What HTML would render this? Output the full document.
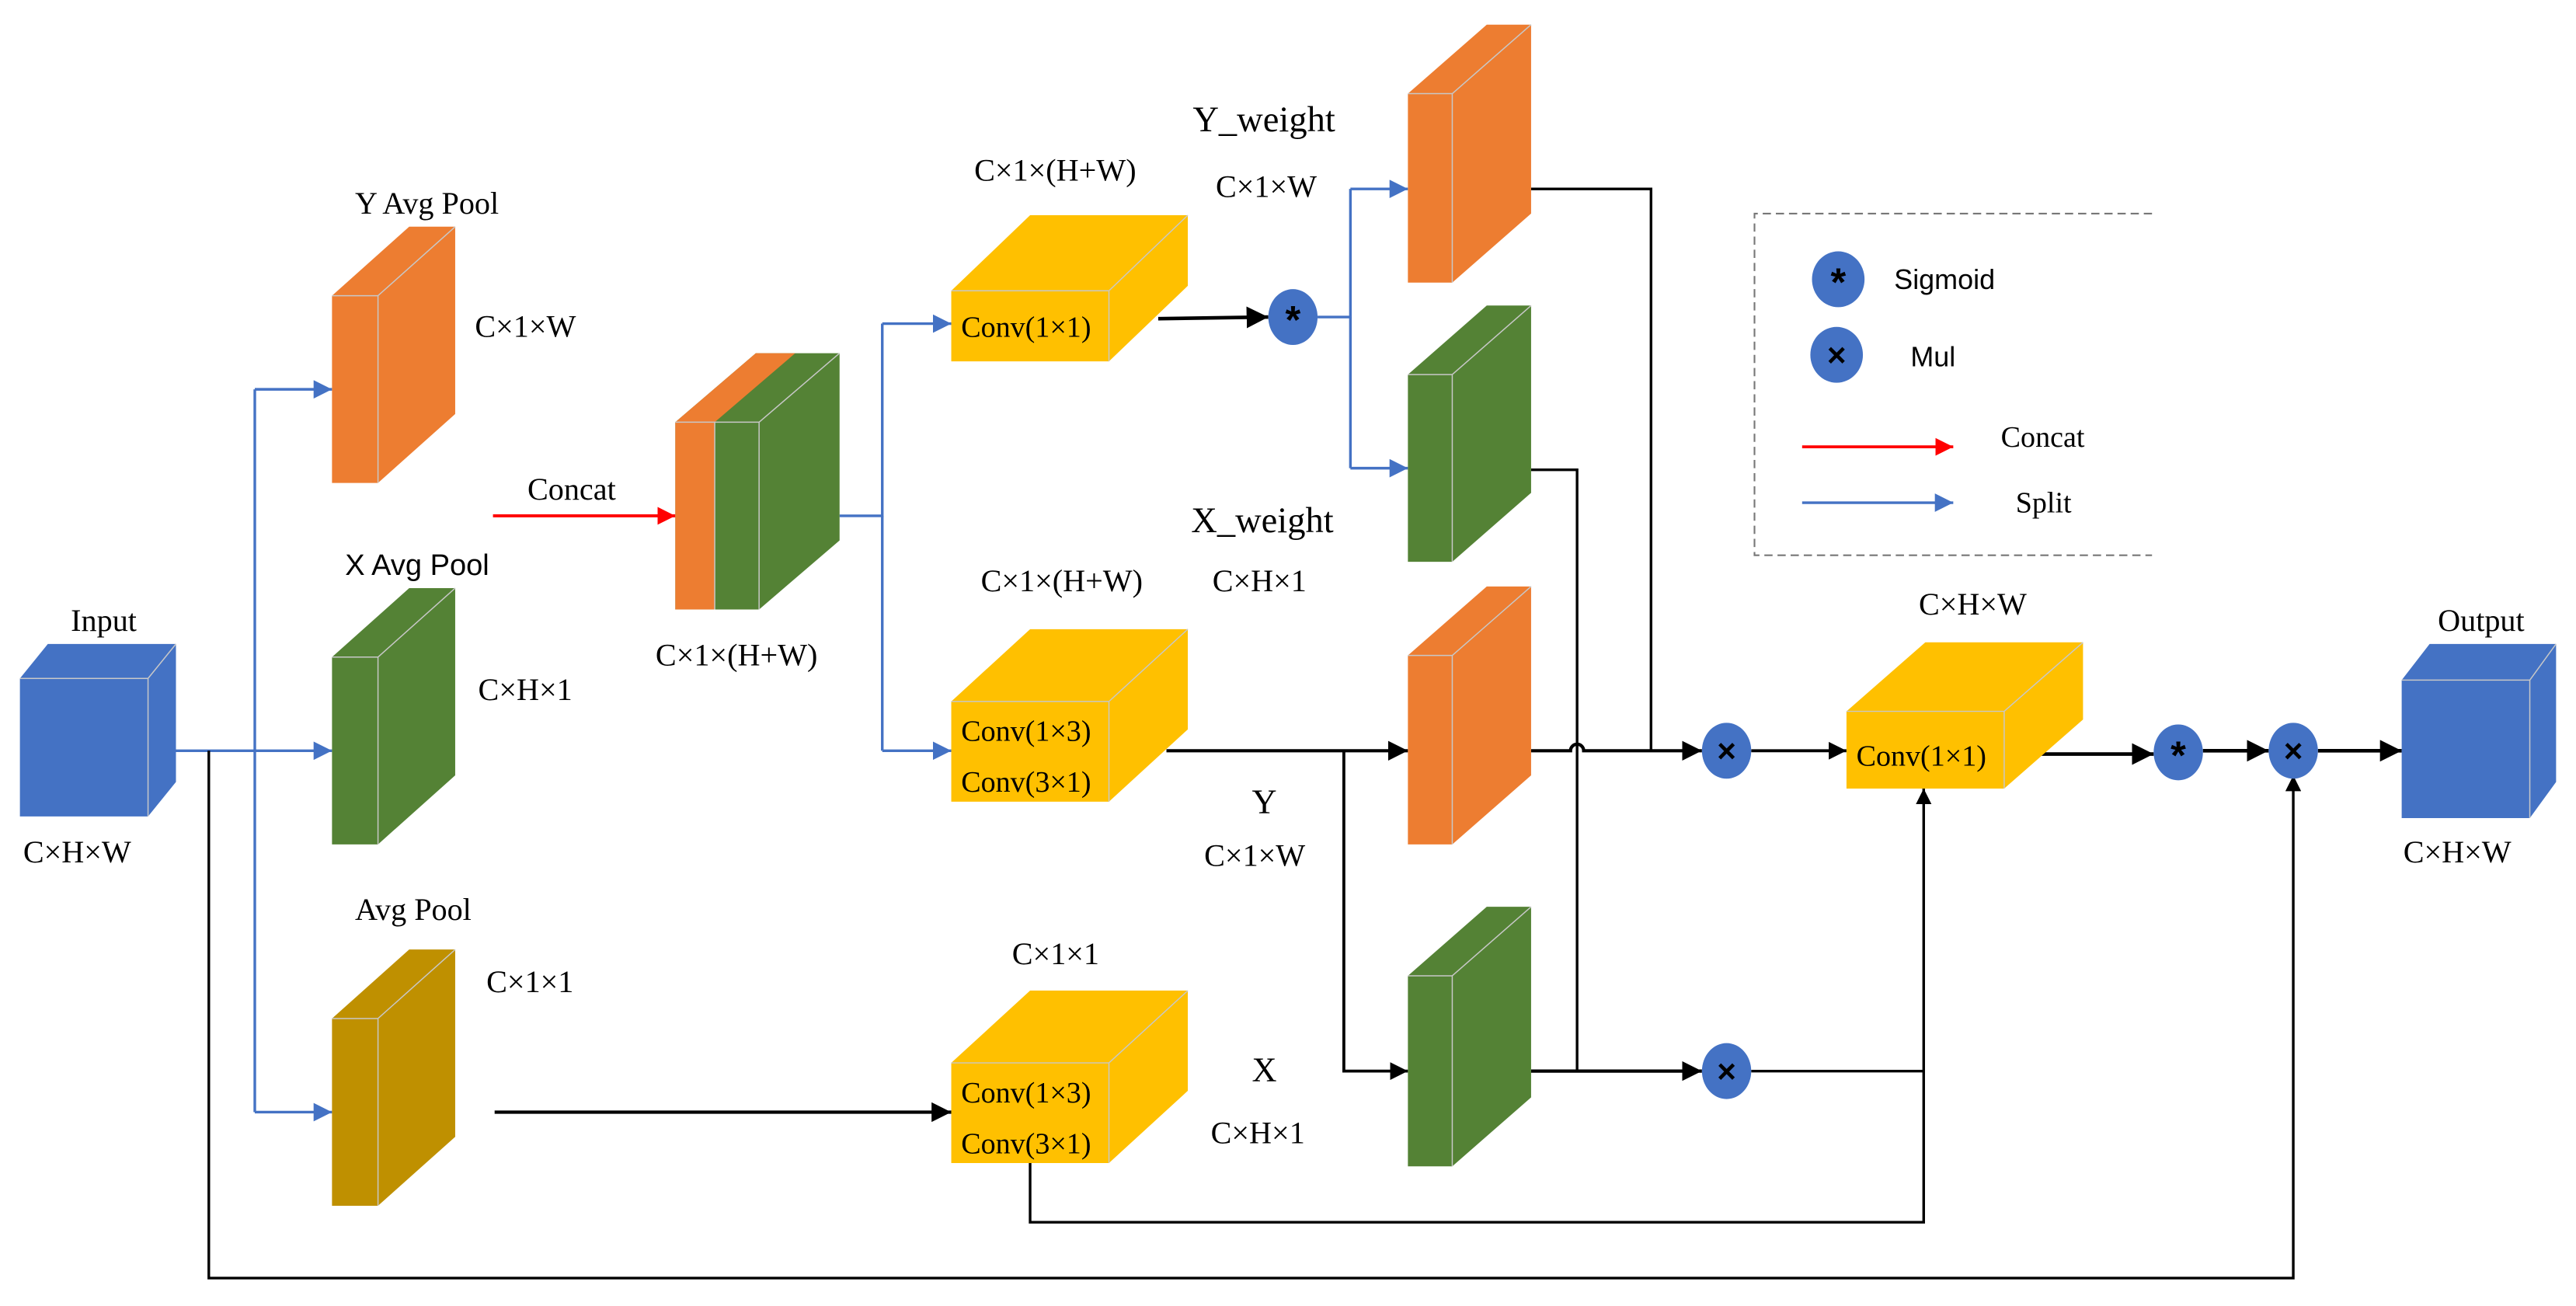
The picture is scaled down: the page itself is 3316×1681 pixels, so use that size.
<!DOCTYPE html>
<html><head><meta charset="utf-8"><style>
html,body{margin:0;padding:0;background:#fff;}
svg{display:block;}
text{font-family:"Liberation Serif",serif;font-size:19px;fill:#000;}
.s{font-family:"Liberation Sans",sans-serif;}
.e{stroke:#c8c8c8;stroke-width:0.7;fill:none;}
</style></head><body>
<svg width="3316" height="1681" viewBox="0 0 1568 795" xmlns="http://www.w3.org/2000/svg">
<defs>
<marker id="ab" viewBox="0 0 10 10" refX="10" refY="5" markerWidth="6" markerHeight="6" orient="auto" markerUnits="strokeWidth"><path d="M0,0L10,5L0,10z" fill="#000"/></marker>
<marker id="abl" viewBox="0 0 10 10" refX="10" refY="5" markerWidth="7" markerHeight="7" orient="auto" markerUnits="strokeWidth"><path d="M0,0L10,5L0,10z" fill="#4472C4"/></marker>
<marker id="ar" viewBox="0 0 10 10" refX="10" refY="5" markerWidth="6" markerHeight="6" orient="auto" markerUnits="strokeWidth"><path d="M0,0L10,5L0,10z" fill="#f00"/></marker>
</defs>

<g stroke="#4472C4" stroke-width="1.6" fill="none">
<path d="M107,457H155"/>
<path d="M155,237V677"/>
<path d="M155,237H202" marker-end="url(#abl)"/>
<path d="M155,457H202" marker-end="url(#abl)"/>
<path d="M155,677H202" marker-end="url(#abl)"/>
<path d="M511,314H537V197"/>
<path d="M537,314V457"/>
<path d="M537,197H579" marker-end="url(#abl)"/>
<path d="M537,457H579" marker-end="url(#abl)"/>
<path d="M802,193H822V115"/>
<path d="M822,193V285"/>
<path d="M822,115H857" marker-end="url(#abl)"/>
<path d="M822,285H857" marker-end="url(#abl)"/>
<path d="M1097,306H1189" marker-end="url(#abl)"/>
</g>
<g stroke="#f00" stroke-width="1.8" fill="none">
<path d="M300,314H411" marker-end="url(#ar)"/>
<path d="M1097,272H1189" marker-end="url(#ar)"/>
</g>

<g stroke="#000" stroke-width="1.6" fill="none">
<path d="M705,194L772,193" stroke-width="2.2" marker-end="url(#ab)"/>
<path d="M301,677H579" stroke-width="2" marker-end="url(#ab)"/>
<path d="M127,457V778H1396V472" marker-end="url(#ab)"/>
<path d="M627,708V744H1171V480" marker-end="url(#ab)"/>
<path d="M710,457H857" stroke-width="2" marker-end="url(#ab)"/>
<path d="M818,457V652H857" stroke-width="1.8" marker-end="url(#ab)"/>
<path d="M932,115H1005V457"/>
<path d="M932,286H960V652"/>
<path d="M932,457H956a4,4 0 0 1 8,0H1036" stroke-width="2" marker-end="url(#ab)"/>
<path d="M932,652H1036" stroke-width="2" marker-end="url(#ab)"/>
<path d="M1066,457H1124" stroke-width="1.8" marker-end="url(#ab)"/>
<path d="M1066,652H1171"/>
<path d="M1220,459L1311,459" stroke-width="2.2" marker-end="url(#ab)"/>
<path d="M1341,457H1381" stroke-width="2.2" marker-end="url(#ab)"/>
<path d="M1411,457H1462" stroke-width="2.2" marker-end="url(#ab)"/>
</g>

<polygon points="12,497 12,413 29,392 107,392 107,476 90,497" fill="#4472C4"/>
<path class="e" d="M12,413H90V497M90,413L107,392"/>
<polygon points="1462,498 1462,414 1479,392 1556,392 1556,476 1540,498" fill="#4472C4"/>
<path class="e" d="M1462,414H1540V498M1540,414L1556,392"/>

<polygon points="202,294 202,180 249,138 277,138 277,252 230,294" fill="#ED7D31"/>
<path class="e" d="M202,180H230V294M230,180L277,138"/>
<polygon points="202,514 202,400 249,358 277,358 277,472 230,514" fill="#548235"/>
<path class="e" d="M202,400H230V514M230,400L277,358"/>
<polygon points="202,734 202,620 249,578 277,578 277,692 230,734" fill="#BF9000"/>
<path class="e" d="M202,620H230V734M230,620L277,578"/>

<polygon points="411,371 411,257 460,215 511,215 511,329 462,371" fill="#548235"/>
<rect x="411" y="257" width="24" height="114" fill="#ED7D31"/>
<polygon points="411,257 460,215 484,215 435,257" fill="#ED7D31"/>
<path class="e" d="M411,257H462V371M435,257V371M462,257L511,215"/>

<polygon points="579,220 579,177 627,131 723,131 723,174 675,220" fill="#FFC000"/>
<path class="e" d="M579,177H675V220M675,177L723,131"/>
<polygon points="579,488 579,427 627,383 723,383 723,444 675,488" fill="#FFC000"/>
<path class="e" d="M579,427H675V488M675,427L723,383"/>
<polygon points="579,708 579,647 627,603 723,603 723,664 675,708" fill="#FFC000"/>
<path class="e" d="M579,647H675V708M675,647L723,603"/>
<polygon points="1124,480 1124,433 1172,391 1268,391 1268,438 1220,480" fill="#FFC000"/>
<path class="e" d="M1124,433H1220V480M1220,433L1268,391"/>

<polygon points="857,172 857,57 905,15 932,15 932,130 884,172" fill="#ED7D31"/>
<path class="e" d="M857,57H884V172M884,57L932,15"/>
<polygon points="857,342 857,228 905,186 932,186 932,300 884,342" fill="#548235"/>
<path class="e" d="M857,228H884V342M884,228L932,186"/>
<polygon points="857,514 857,399 905,357 932,357 932,472 884,514" fill="#ED7D31"/>
<path class="e" d="M857,399H884V514M884,399L932,357"/>
<polygon points="857,710 857,594 905,552 932,552 932,668 884,710" fill="#548235"/>
<path class="e" d="M857,594H884V710M884,594L932,552"/>

<g fill="#4472C4">
<ellipse cx="787" cy="193" rx="15" ry="17"/>
<ellipse cx="1051" cy="457" rx="15" ry="17"/>
<ellipse cx="1051" cy="652" rx="15" ry="17"/>
<ellipse cx="1326" cy="458" rx="15" ry="17"/>
<ellipse cx="1396" cy="457" rx="15" ry="17"/>
<ellipse cx="1119" cy="170" rx="16" ry="17"/>
<ellipse cx="1118" cy="216" rx="16" ry="17"/>
</g>
<g text-anchor="middle">
<text x="787" y="203" class="s" style="font-size:24px;font-weight:bold">*</text>
<text x="1326" y="468" class="s" style="font-size:24px;font-weight:bold">*</text>
<text x="1119" y="180" class="s" style="font-size:24px;font-weight:bold">*</text>
<text x="1051" y="464" class="s" style="font-size:20px;font-weight:bold">×</text>
<text x="1051" y="659" class="s" style="font-size:20px;font-weight:bold">×</text>
<text x="1396" y="464" class="s" style="font-size:20px;font-weight:bold">×</text>
<text x="1118" y="223" class="s" style="font-size:20px;font-weight:bold">×</text>
</g>

<path d="M1310,130H1068V338H1310" fill="none" stroke="#777" stroke-width="1" stroke-dasharray="5,3"/>
<text x="1153" y="176" class="s" style="font-size:17px">Sigmoid</text>
<text x="1163" y="223" class="s" style="font-size:17px">Mul</text>
<text x="1218" y="272" style="font-size:18px">Concat</text>
<text x="1227" y="312" style="font-size:18px">Split</text>

<text x="216" y="130">Y Avg Pool</text>
<text x="289" y="205">C×1×W</text>
<text x="210" y="350" class="s" style="font-size:18px">X Avg Pool</text>
<text x="291" y="426">C×H×1</text>
<text x="216" y="560">Avg Pool</text>
<text x="296" y="604">C×1×1</text>
<text x="43" y="384">Input</text>
<text x="14" y="525">C×H×W</text>
<text x="321" y="304">Concat</text>
<text x="399" y="405">C×1×(H+W)</text>
<text x="593" y="110">C×1×(H+W)</text>
<text x="726" y="80" style="font-size:22px">Y_weight</text>
<text x="740" y="120">C×1×W</text>
<text x="725" y="324" style="font-size:22px">X_weight</text>
<text x="597" y="360">C×1×(H+W)</text>
<text x="738" y="360">C×H×1</text>
<text x="762" y="495" style="font-size:21px">Y</text>
<text x="733" y="527">C×1×W</text>
<text x="616" y="587">C×1×1</text>
<text x="762" y="658" style="font-size:21px">X</text>
<text x="737" y="696">C×H×1</text>
<text x="1168" y="374">C×H×W</text>
<text x="1484" y="384">Output</text>
<text x="1463" y="525">C×H×W</text>
<text x="585" y="205" style="font-size:18px">Conv(1×1)</text>
<text x="585" y="451" style="font-size:18px">Conv(1×3)</text>
<text x="585" y="482" style="font-size:18px">Conv(3×1)</text>
<text x="585" y="671" style="font-size:18px">Conv(1×3)</text>
<text x="585" y="702" style="font-size:18px">Conv(3×1)</text>
<text x="1130" y="466" style="font-size:18px">Conv(1×1)</text>
</svg>
</body></html>
